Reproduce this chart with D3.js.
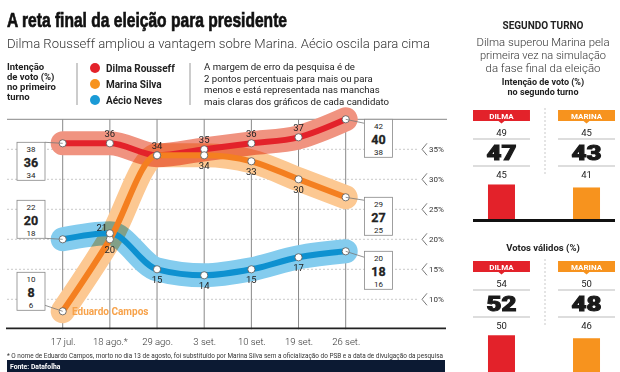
<!DOCTYPE html>
<html>
<head>
<meta charset="utf-8">
<script src="https://cdn.jsdelivr.net/npm/d3@7"></script>
<style>
  body { margin: 0; background: #fff; }
  svg { display: block; font-family: Roboto, 'Open Sans', 'DejaVu Sans', sans-serif; }
</style>
</head>
<body>
<div id="chart"></div>
<script>
// primeiro turno, Datafolha
var dates = ['17 jul.', '18 ago.*', '29 ago.', '3 set.', '10 set.', '19 set.', '26 set.'];
var dilma = [36, 36, 34, 35, 36, 37, 40];
var marina = [8, 20, 34, 34, 33, 30, 27];
var aecio = [20, 21, 15, 14, 15, 17, 18];
var errMargin = 2;
var yTicks = [35, 30, 25, 20, 15, 10];

// segundo turno
var names2 = ['DILMA', 'MARINA'];
var intencao2 = [47, 43];
var validos2 = [52, 48];

var svg = d3.select('#chart').append('svg')
    .attr('width', 620)
    .attr('height', 372);

var x = d3.scalePoint().domain(dates).range([62.7, 345.7]);
var y = d3.scaleLinear().domain([5, 40]).range([329.3, 119.3]);

var series = [
  { name: 'Dilma Rousseff', values: dilma, line: '#e3222a', band: '#f09380', legend: '#e3222a',
    labels: [null, 'up', 'up', 'up', 'up', 'up', null] },
  { name: 'Marina Silva', values: marina, line: '#f47f20', band: '#fcc892', legend: '#f7931e',
    labels: [null, 'down', null, 'down', 'down', 'down', null] },
  { name: 'Aécio Neves', values: aecio, line: '#0e91d0', band: '#84ccee', legend: '#1a9ad6',
    labels: [null, 'upleft', 'down', 'down', 'down', 'down', null] }
];

// titulo
svg.append('text')
    .attr('x', 7).attr('y', 27)
    .attr('textLength', 280).attr('lengthAdjust', 'spacingAndGlyphs')
    .style('font-family', "'Liberation Sans Narrow', 'Liberation Sans', sans-serif")
    .style('font-weight', 'bold').style('font-size', '21px').style('fill', '#111')
    .style('stroke', '#111').style('stroke-width', 0.7)
    .text('A reta final da eleição para presidente');

svg.append('text')
    .attr('x', 7).attr('y', 48)
    .attr('textLength', 423).attr('lengthAdjust', 'spacingAndGlyphs')
    .style('font-weight', 300).style('font-size', '13.6px').style('fill', '#333')
    .text('Dilma Rousseff ampliou a vantagem sobre Marina. Aécio oscila para cima');

// cabecalho / legenda
svg.selectAll('.head1')
    .data(['Intenção', 'de voto (%)', 'no primeiro', 'turno'])
    .enter().append('text')
    .attr('x', 7).attr('y', function (d, i) { return 70 + i * 10; })
    .style('font-weight', 'bold').style('font-size', '9.5px').style('fill', '#222')
    .text(function (d) { return d; });

[77, 190].forEach(function (sx) {
  svg.append('line')
      .attr('x1', sx).attr('x2', sx).attr('y1', 63).attr('y2', 105)
      .style('stroke', '#999').style('stroke-width', 1);
});

var leg = svg.selectAll('.leg').data(series).enter().append('g')
    .attr('transform', function (d, i) { return 'translate(95,' + (68 + i * 16) + ')'; });
leg.append('circle').attr('r', 5).style('fill', function (d) { return d.legend; });
leg.append('text').attr('x', 11).attr('y', 3.5)
    .style('font-weight', 'bold').style('font-size', '10px').style('fill', '#222')
    .text(function (d) { return d.name; });

svg.selectAll('.note')
    .data(['A margem de erro da pesquisa é de', '2 pontos percentuais para mais ou para',
           'menos e está representada nas manchas', 'mais claras dos gráficos de cada candidato'])
    .enter().append('text')
    .attr('x', 204).attr('y', function (d, i) { return 70 + i * 11.6; })
    .style('font-size', '9.6px').style('fill', '#222')
    .text(function (d) { return d; });

// grade
var grid = svg.append('g');
grid.selectAll('.hg').data(yTicks).enter().append('line')
    .attr('x1', 7).attr('x2', 419)
    .attr('y1', function (d) { return y(d); }).attr('y2', function (d) { return y(d); })
    .style('stroke', '#bbb').style('stroke-width', 0.8).style('stroke-dasharray', '2,2');

grid.append('line')
    .attr('x1', 7).attr('x2', 447).attr('y1', y(40)).attr('y2', y(40))
    .style('stroke', '#888').style('stroke-width', 1);

grid.selectAll('.vg').data(dates).enter().append('line')
    .attr('x1', function (d) { return x(d); }).attr('x2', function (d) { return x(d); })
    .attr('y1', y(40)).attr('y2', y(5))
    .style('stroke', '#888').style('stroke-width', 1);

var tickR = grid.selectAll('.tr').data(yTicks).enter().append('g')
    .attr('transform', function (d) { return 'translate(422,' + y(d) + ')'; });
tickR.append('path').attr('d', 'M5,-6L0,0L5,6')
    .style('fill', 'none').style('stroke', '#555').style('stroke-width', 0.8);
tickR.append('text').attr('x', 7).attr('y', 3)
    .style('font-size', '8px').style('fill', '#333')
    .text(function (d) { return d + '%'; });

// eixo x
var xAxis = svg.append('g').attr('transform', 'translate(0,' + y(5) + ')')
    .call(d3.axisBottom(x).tickSize(0).tickPadding(9));
xAxis.select('.domain').remove();
xAxis.selectAll('text').style('font-size', '9.5px').style('font-family', 'Roboto, sans-serif')
    .style('font-weight', 300).style('fill', '#333');
svg.append('line')
    .attr('x1', 6).attr('x2', 446).attr('y1', y(5) - 1).attr('y2', y(5) - 1)
    .style('stroke', '#222').style('stroke-width', 1.8);

// linhas
var line = d3.line()
    .x(function (d, i) { return x(dates[i]); })
    .y(function (d) { return y(d); })
    .curve(d3.curveMonotoneX);

var bandPx = y(0) - y(2 * errMargin);
var bands = svg.append('g').style('isolation', 'isolate');
bands.selectAll('path').data(series).enter().append('path')
    .attr('d', function (d) { return line(d.values); })
    .style('fill', 'none')
    .style('stroke', function (d) { return d.band; })
    .style('stroke-width', bandPx)
    .style('stroke-linecap', 'round').style('stroke-linejoin', 'round')
    .style('mix-blend-mode', 'multiply');

svg.append('g').selectAll('path').data([series[2], series[0], series[1]]).enter().append('path')
    .attr('d', function (d) { return line(d.values); })
    .style('fill', 'none')
    .style('stroke', function (d) { return d.line; })
    .style('stroke-width', 6)
    .style('stroke-linejoin', 'round');

svg.append('text')
    .attr('x', 72).attr('y', y(marina[0]) + 3.5)
    .style('font-weight', 'bold').style('font-size', '10px').style('fill', '#f7a24a')
    .text('Eduardo Campos');

// pontos e rotulos
series.forEach(function (s) {
  var g = svg.append('g');
  var pts = s.values.map(function (v, i) { return { v: v, date: dates[i], pos: s.labels[i] }; });
  g.selectAll('circle').data(pts).enter().append('circle')
      .attr('cx', function (d) { return x(d.date); })
      .attr('cy', function (d) { return y(d.v); })
      .attr('r', 3.6)
      .style('fill', '#fff').style('stroke', '#555').style('stroke-width', 0.8);

  g.selectAll('text').data(pts.filter(function (d) { return d.pos; })).enter().append('text')
      .attr('x', function (d) { return x(d.date) + (d.pos === 'upleft' ? -8 : 0); })
      .attr('y', function (d) {
        return y(d.v) + (d.pos === 'down' ? 13.5 : d.pos === 'upleft' ? -2.5 : -6);
      })
      .attr('text-anchor', 'middle')
      .style('font-size', '9.5px').style('fill', '#222')
      .text(function (d) { return d.v; });
});

// caixas com a margem de erro
function rangeBox(cx, top, v, leadFrom, leadTo) {
  svg.append('line')
      .attr('x1', leadFrom[0]).attr('y1', leadFrom[1]).attr('x2', leadTo[0]).attr('y2', leadTo[1])
      .style('stroke', '#777').style('stroke-width', 0.8);
  var b = svg.append('g').attr('transform', 'translate(' + cx + ',' + top + ')');
  b.append('rect').attr('x', -14).attr('width', 28).attr('height', 38)
      .style('fill', '#fff').style('stroke', '#888').style('stroke-width', 0.8);
  b.append('text').attr('y', 10.2).attr('text-anchor', 'middle')
      .style('font-size', '8px').style('fill', '#222').text(v + errMargin);
  b.append('text').attr('y', 24.3).attr('text-anchor', 'middle')
      .style('font-size', '12.5px').style('font-weight', 'bold').style('fill', '#222')
      .style('stroke', '#222').style('stroke-width', 0.3).text(v);
  b.append('text').attr('y', 35.6).attr('text-anchor', 'middle')
      .style('font-size', '8px').style('fill', '#222').text(v - errMargin);
}

var x0 = x(dates[0]), xn = x(dates[dates.length - 1]), last = dates.length - 1;
rangeBox(31, y(dilma[0]) - 1, dilma[0], [45, y(dilma[0]) - 1], [x0, y(dilma[0])]);
rangeBox(31, y(aecio[0]) - 39, aecio[0], [45, y(aecio[0]) - 1], [x0, y(aecio[0])]);
rangeBox(31, y(marina[0]) - 39, marina[0], [45, y(marina[0]) - 6], [x0, y(marina[0])]);
rangeBox(378.5, y(dilma[last]), dilma[last], [xn, y(dilma[last])], [364.5, y(dilma[last]) + 4]);
rangeBox(378.5, y(marina[last]), marina[last], [xn, y(marina[last])], [364.5, y(marina[last]) + 3]);
rangeBox(378.5, y(aecio[last]), aecio[last], [xn, y(aecio[last])], [364.5, y(aecio[last]) + 6]);

// nota e fonte
svg.append('text')
    .attr('x', 7).attr('y', 357.5)
    .attr('textLength', 436).attr('lengthAdjust', 'spacingAndGlyphs')
    .style('font-size', '6.3px').style('fill', '#333')
    .text('* O nome de Eduardo Campos, morto no dia 13 de agosto, foi substituído por Marina Silva sem a oficialização do PSB e a data de divulgação da pesquisa');
svg.append('rect').attr('x', 7).attr('y', 360).attr('width', 438).attr('height', 12)
    .style('fill', '#0c1a33');
svg.append('text').attr('x', 10).attr('y', 368.5)
    .style('font-size', '6.8px').style('font-weight', 'bold').style('fill', '#fff')
    .text('Fonte: Datafolha');

// painel do segundo turno
var cx2 = 543;
svg.append('text').attr('x', cx2).attr('y', 28.5).attr('text-anchor', 'middle')
    .style('font-weight', 'bold').style('font-size', '10px').style('fill', '#222')
    .text('SEGUNDO TURNO');
var sub2w = [133, 126, 115];
svg.selectAll('.sub2')
    .data(['Dilma superou Marina pela', 'primeira vez na simulação', 'da fase final da eleição'])
    .enter().append('text')
    .attr('x', cx2).attr('y', function (d, i) { return 45.5 + i * 13; })
    .attr('text-anchor', 'middle')
    .attr('textLength', function (d, i) { return sub2w[i]; })
    .attr('lengthAdjust', 'spacingAndGlyphs')
    .style('font-weight', 300).style('font-size', '10.3px').style('fill', '#333')
    .text(function (d) { return d; });
svg.selectAll('.head2')
    .data(['Intenção de voto (%)', 'no segundo turno'])
    .enter().append('text')
    .attr('x', cx2).attr('y', function (d, i) { return 85 + i * 9.5; })
    .attr('text-anchor', 'middle')
    .style('font-weight', 'bold').style('font-size', '9px').style('fill', '#222')
    .text(function (d) { return d; });
svg.append('text').attr('x', cx2).attr('y', 251).attr('text-anchor', 'middle')
    .style('font-weight', 'bold').style('font-size', '9.5px').style('fill', '#222')
    .text('Votos válidos (%)');

var xb = d3.scaleBand().domain(names2).range([473, 615]).paddingInner(0.33);
var hb = d3.scaleLinear().domain([0, 100]).range([0, 74.5]);
var colors2 = ['#e3222a', '#f7931e'];

function panel(values, top, base) {
  var g = svg.append('g');
  g.append('line').attr('x1', 545).attr('x2', 545).attr('y1', top - 2).attr('y2', top + 66)
      .style('stroke', '#bbb').style('stroke-width', 0.8).style('stroke-dasharray', '2,2');
  var col = g.selectAll('.col').data(names2).enter().append('g')
      .attr('transform', function (d) { return 'translate(' + xb(d) + ',0)'; });
  var w = xb.bandwidth();
  col.append('path')
      .attr('d', 'M0,' + top + 'H' + w + 'V' + (top + 11) + 'H' + (w / 2 + 3) + 'L' + (w / 2) + ',' + (top + 13.5) +
           'L' + (w / 2 - 3) + ',' + (top + 11) + 'H0Z')
      .style('fill', function (d, i) { return colors2[i]; });
  col.append('text').attr('x', w / 2).attr('y', top + 8.5).attr('text-anchor', 'middle')
      .style('font-size', '8px').style('font-weight', 'bold').style('fill', '#fff')
      .text(function (d) { return d; });
  col.append('text').attr('x', w / 2).attr('y', top + 25.5).attr('text-anchor', 'middle')
      .style('font-size', '9.5px').style('fill', '#222')
      .text(function (d, i) { return values[i] + errMargin; });
  col.append('line').attr('x1', 0).attr('x2', w).attr('y1', top + 29).attr('y2', top + 29)
      .style('stroke', '#aaa').style('stroke-width', 0.8);
  col.append('text').attr('x', w / 2).attr('y', top + 50).attr('text-anchor', 'middle')
      .attr('textLength', 30).attr('lengthAdjust', 'spacingAndGlyphs')
      .style('font-size', '20.5px').style('font-weight', 900).style('fill', '#1a1a1a')
      .style('stroke', '#1a1a1a').style('stroke-width', 1)
      .text(function (d, i) { return values[i]; });
  col.append('line').attr('x1', 0).attr('x2', w).attr('y1', top + 56).attr('y2', top + 56)
      .style('stroke', '#aaa').style('stroke-width', 0.8);
  col.append('text').attr('x', w / 2).attr('y', top + 67.5).attr('text-anchor', 'middle')
      .style('font-size', '9.5px').style('fill', '#222')
      .text(function (d, i) { return values[i] - errMargin; });
  col.append('rect')
      .attr('x', w / 2 - 13.5).attr('width', 27)
      .attr('y', function (d, i) { return base - hb(values[i]); })
      .attr('height', function (d, i) { return hb(values[i]); })
      .style('fill', function (d, i) { return colors2[i]; });
}

panel(intencao2, 110, 219.5);
panel(validos2, 261, 374);

svg.append('line').attr('x1', 473).attr('x2', 615).attr('y1', 220.5).attr('y2', 220.5)
    .style('stroke', '#111').style('stroke-width', 3);
</script>
</body>
</html>
